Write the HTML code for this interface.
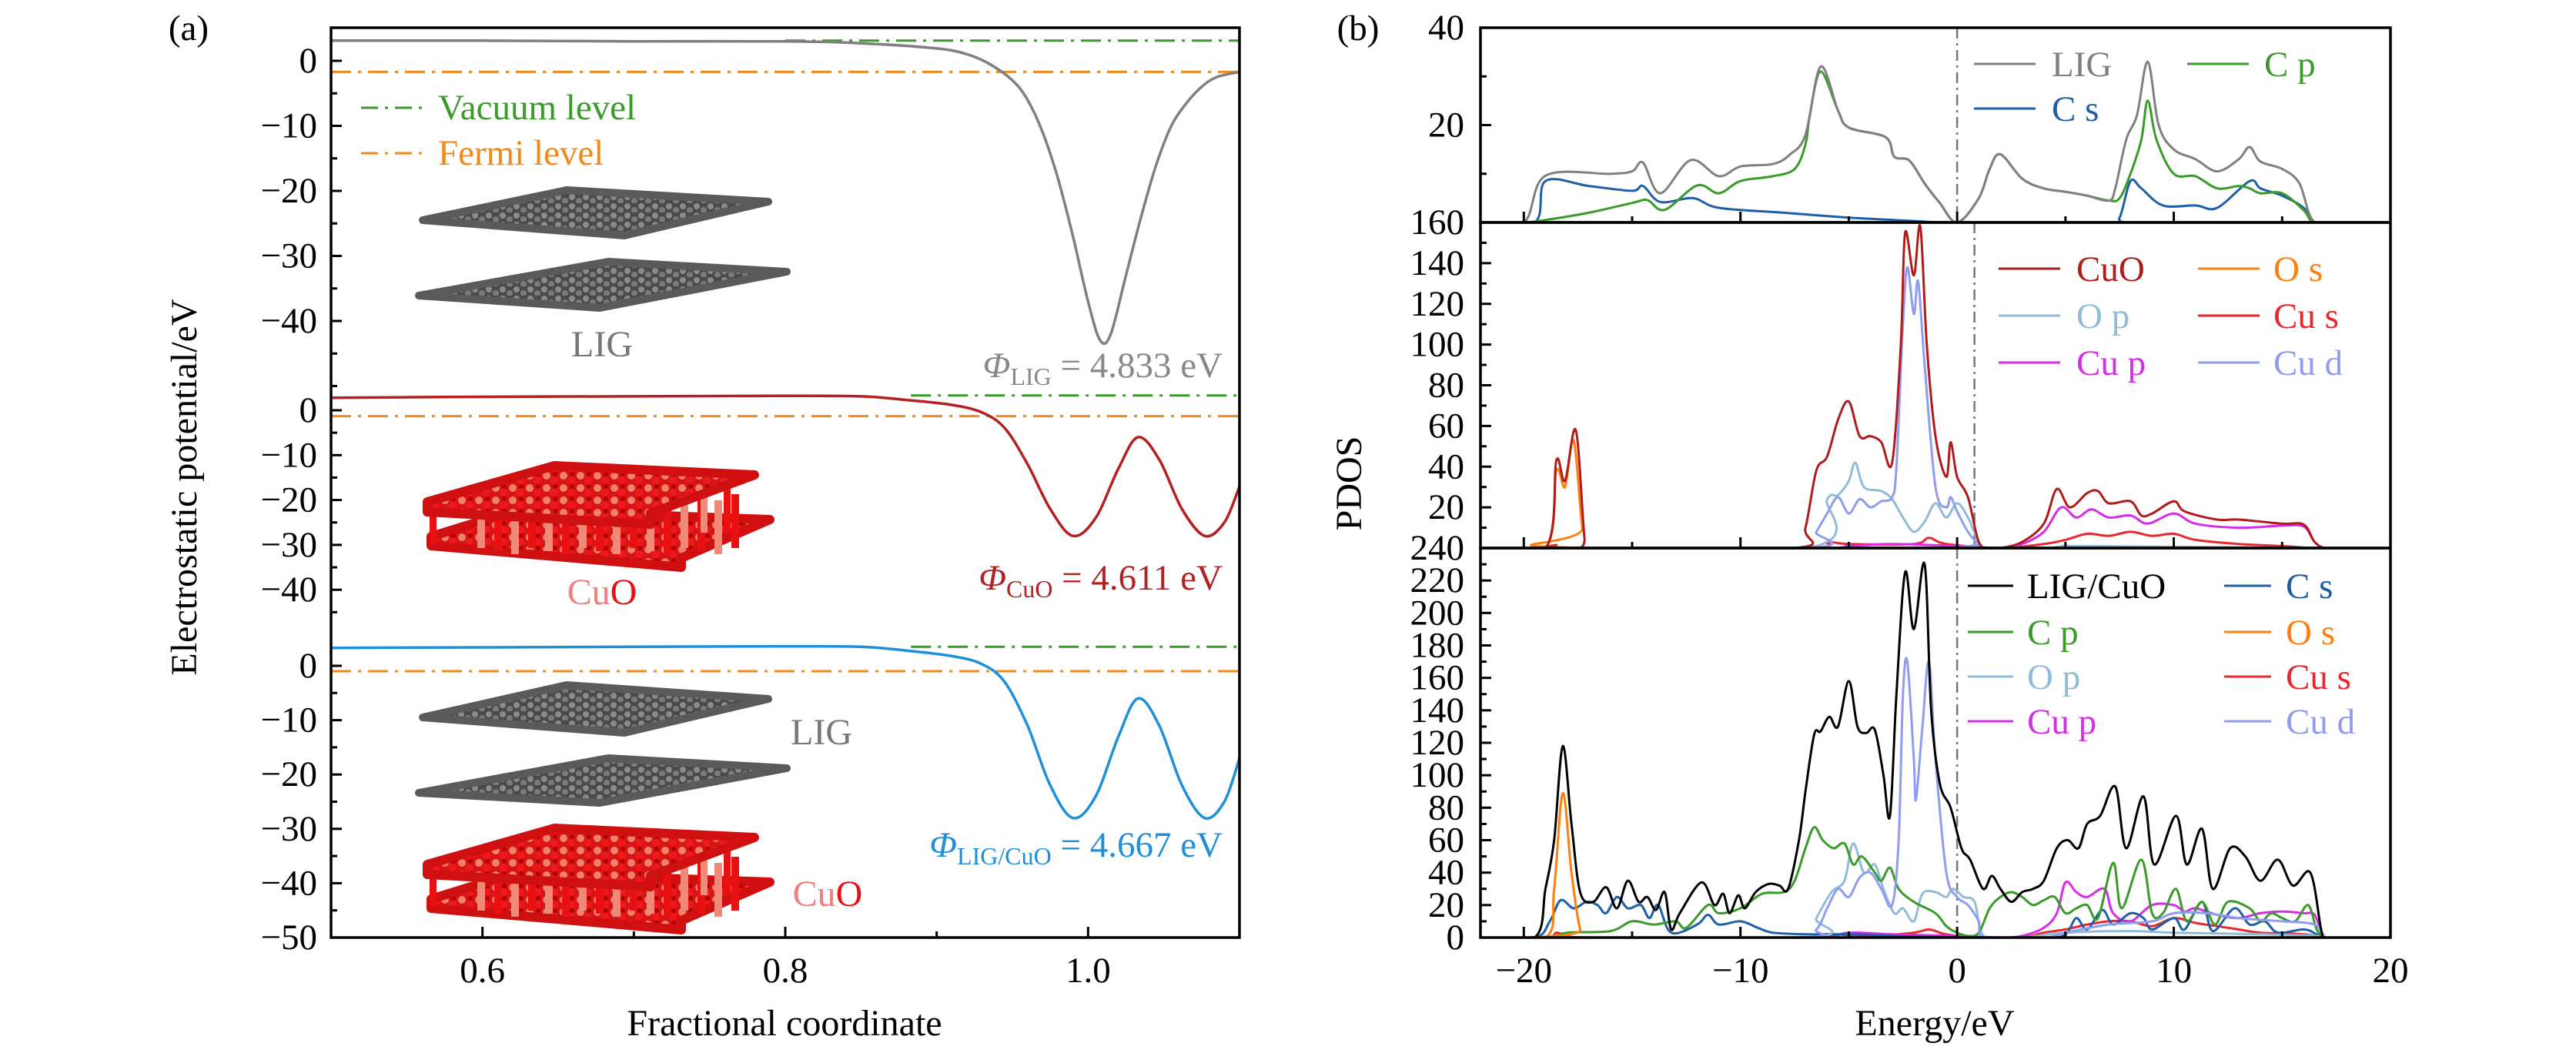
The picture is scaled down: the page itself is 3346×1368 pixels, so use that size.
<!DOCTYPE html>
<html><head><meta charset="utf-8">
<style>
html,body{margin:0;padding:0;background:#fff;}
svg{display:block;font-family:"Liberation Serif",serif;}
</style></head>
<body>
<svg id="fig" xmlns="http://www.w3.org/2000/svg" width="3346" height="1368" viewBox="0 0 3346 1368">
<defs>
<pattern id="gpat" width="18" height="12" patternUnits="userSpaceOnUse">
<rect width="18" height="12" fill="#4a4a4a"/>
<circle cx="5" cy="4" r="4" fill="#8a8a8a"/><circle cx="14" cy="9" r="4" fill="#7a7a7a"/>
</pattern>
<pattern id="cpat" width="22" height="16" patternUnits="userSpaceOnUse">
<rect width="22" height="16" fill="#d81414"/>
<circle cx="6" cy="5" r="5" fill="#f0826c"/><circle cx="16" cy="11" r="5" fill="#ee1a1a"/><circle cx="17" cy="3" r="3" fill="#b00000"/>
</pattern>
</defs>
</svg>
<script>
// ---------- Panel (a) data ----------
const ligX = [0.5,0.6,0.7,0.8,0.85,0.9,0.92,0.935,0.95,0.96,0.97,0.98,0.99,1.0,1.008,1.015,1.025,1.035,1.045,1.055,1.065,1.075,1.085,1.1];
const ligV = [3.1,3.1,3.0,3.0,2.7,1.9,1.0,-0.5,-3,-6,-11,-18,-27,-37,-43,-42,-33,-24,-16,-10,-6.5,-4,-2.5,-1.7];
const cuoX = [0.5,0.6,0.7,0.8,0.85,0.88,0.91,0.93,0.945,0.96,0.975,0.99,1.005,1.02,1.033,1.047,1.062,1.077,1.09,1.1];
const cuoV = [2.8,3.0,3.1,3.2,3.1,2.3,1.2,-0.5,-4,-12,-22,-28,-24,-13,-6,-11,-22,-28,-25,-17];
const hetX = [0.5,0.6,0.7,0.8,0.85,0.88,0.91,0.93,0.945,0.96,0.975,0.99,1.005,1.02,1.033,1.047,1.062,1.077,1.09,1.1];
const hetV = [3.3,3.4,3.5,3.6,3.5,2.8,1.8,0.3,-3,-11,-22,-28,-24,-13,-6,-11,-22,-28,-25,-17];
const vacLevels = [3.1, 3.3, 3.5];
const fermiLevels = [-1.7, -1.3, -1.0];
const aXTicks = [0.6,0.8,1.0];
const aXTickLabels = ["0.6","0.8","1.0"];

// ---------- Panel (b) data ----------
const topLIG_E = [-22,-20,-19,-16,-15,-14.5,-13.7,-12.3,-11,-10,-8.5,-7.7,-7,-6.3,-5.5,-5,-3.3,-2.9,-2.2,-1.5,-0.8,0,1,1.5,2,3,4,5,6,7,7.3,7.8,8.3,8.8,9.3,10,11,12,13,13.5,14,15,15.8,16.5,18];
const topLIG_V = [0,0,9.6,10,10.5,12.3,6,12.8,9.5,11.5,12,14,18,32,23,19.5,17.5,13.5,12.7,8,4,0,5,11,14,9,7,6.3,5.5,4.5,7,17,22,33,20,15,13,10.5,13,15.5,12.5,11,8,0,0];
const topCp_E = [-22,-20,-19,-17,-15,-14.3,-13.5,-12,-11,-10,-8.5,-7.5,-7,-6.8,-6.3,-5.5,-5,-3.3,-2.9,-2.2,-1.5,-0.8,0,1,1.5,2,3,4,5,6,7,7.5,8,8.5,8.8,9.2,10,11,12,13,13.5,14,15,16,16.5,18];
const topCp_V = [0,0,0.5,2,4,4.6,2.6,7.6,6,8.5,9.5,11,16,22,31,23,19.5,17.5,13.5,12.7,8,4,0,5,11,14,9,7,6.3,5.5,4.5,5,10,17,25,17,10,9.5,7,7.5,7,6,6,2.5,0,0];
const topCs_E = [-22,-19.5,-19,-17,-15,-14.5,-13.7,-12.2,-11,-8,-5,-2,0,7,7.5,8,8.5,9.5,11,12,13.5,14,15,16,16.5,18];
const topCs_V = [0,0,8.5,7.5,6.5,7.5,4.2,5,3,2,1,0.3,0,0,1,8.5,7,3.5,3.5,3,8.5,7,5.5,3,0,0];

const midCuO_E = [-22,-19,-18.5,-18.1,-17.6,-17.2,-17,-7.5,-7,-6.5,-6,-5.5,-5,-4.5,-4,-3.5,-3,-2.6,-2.4,-2,-1.7,-1.4,-1,-0.5,-0.3,0,0.5,1,1.5,2,3,4,4.6,5.2,6,6.5,7,8,8.5,9,10,10.5,12,13,15,16,16.5,17,18];
const midCuO_V = [0,0,43,33,58,5,0,0,10,38,45,63,72,55,55,52,42,100,155,134,158,100,55,35,52,35,25,3,0,0,3,12,29,20,27,28,22,23,16,17,23,18,14,14,12,11.5,3,0,0];
const midOs_E = [-22,-19,-18.5,-18.1,-17.7,-17.3,-17,18];
const midOs_V = [0,0,38,30,53,10,0,0];
const midOp_E = [-22,-7,-6,-5.5,-5,-4.7,-4.3,-3.5,-3,-2.5,-2,-1.5,-1,-0.5,0,0.5,1,1.5,4,5,6,17,18];
const midOp_V = [0,0,24,26,33,42,30,28,24,15,8,13,22,15,22,15,3,0,0,1,1,0,0];
const midCus_E = [-22,-19,-18.5,-18,-7,-6,-5,-2,-1.3,-0.5,2,4,5,6,7,8,9,10,11,13,15,16.5,18];
const midCus_V = [0,0,1.5,0,0,3,2,2,5,2,0,2,4,7,6,8,6,7,4,2,1,0,0];
const midCup_E = [-22,-7,-5,-3,0,2,3,4,4.8,5.5,6.2,7,8,8.8,10,11,13,15,16,16.5,17,18];
const midCup_V = [0,0,1,2,1,0,2,8,20,15,19,15,16,12,17,12,10,11,10.5,3,0,0];
const midCud_E = [-22,-7,-6.5,-6,-5.5,-5,-4.5,-4,-3.5,-3,-2.8,-2.5,-2.3,-2,-1.8,-1.5,-1,-0.5,-0.3,0,0.5,1,1.5,18];
const midCud_V = [0,0,8,17,25,17,24,20,23,25,40,110,138,115,131,90,30,20,25,18,8,2,0,0];

const botTot_E = [-22,-19.5,-19,-18.6,-18.2,-17.8,-17.4,-16.8,-16.2,-15.7,-15.2,-14.7,-14.3,-13.9,-13.5,-13.2,-12.8,-11.8,-11.2,-10.8,-10.5,-10.1,-9.8,-9.3,-8.7,-8.2,-7.8,-7.3,-7,-6.6,-6.3,-5.9,-5.5,-5,-4.6,-4.2,-3.8,-3.4,-3.1,-2.8,-2.4,-2,-1.5,-1.2,-0.8,-0.3,0.2,0.6,1.2,1.6,2,2.5,3,3.5,4,4.6,5.1,5.6,6,6.6,7.3,7.8,8.6,9.1,10.1,10.6,11.3,11.8,12.6,13.3,14,14.8,15.5,16.3,16.8,17,18];
const botTot_V = [0,0,30,60,118,70,28,22,31,18,35,22,25,17,28,5,15,34,20,27,15,26,18,28,33,32,30,60,90,125,127,136,130,158,130,126,128,100,75,150,225,190,230,140,95,80,55,48,30,38,30,22,28,30,35,55,60,55,70,75,93,55,87,45,75,45,67,30,55,50,35,48,32,40,5,0,0];
const botCp_E = [-22,-19,-18,-16,-15,-14,-13,-12.5,-11.5,-11,-10,-9,-8,-7.5,-7,-6.6,-6.2,-5.7,-5.2,-4.8,-4.4,-3.8,-3.5,-3.1,-2.7,-2,-1,-0.5,0,0.5,1,1.5,2,2.5,3,3.5,4,4.5,5,5.5,6,6.5,7.2,7.6,8.5,9,9.5,10.1,10.6,11.3,11.9,12.5,13.5,14,14.5,15,15.6,16.2,16.6,17,18];
const botCp_V = [0,0,3,4,10,8,10,6,20,15,18,27,28,35,55,68,60,55,58,45,50,40,35,43,30,22,15,7,3,1,3,18,25,28,25,20,23,25,15,18,20,12,46,18,48,15,15,30,10,22,8,22,18,10,15,12,10,20,5,0,0];
const botCs_E = [-22,-19.5,-18.8,-18.3,-17.7,-17.1,-16.6,-16.2,-15.7,-15.2,-14.6,-14.2,-13.8,-13.2,-12,-11.5,-11,-10,-9.2,-8.5,-7,-5,-3,0,4,5,5.5,6,6.7,7.2,8,8.6,9,10,10.5,11.3,11.8,12.8,13.5,14.2,14.8,16,16.6,17,18];
const botCs_V = [0,0,10,23,18,22,20,15,25,18,20,12,20,3,8,14,8,10,6,3,2,2,1,0,0,2,12,5,17,8,15,12,5,12,5,22,4,18,8,10,3,5,2,0,0];
const botOs_E = [-22,-19,-18.6,-18.2,-17.8,-17.4,-17,18];
const botOs_V = [0,0,30,89,40,5,0,0];
const botOp_E = [-22,-7,-6.5,-5.8,-5.2,-4.8,-4.3,-3.8,-3.4,-2.9,-2.5,-2,-1.6,-1,-0.5,-0.2,0.3,0.8,1.3,3,5,8,10,14,16.6,17,18];
const botOp_V = [0,0,12,28,35,58,40,45,30,15,18,10,27,28,25,30,25,22,0,0,3,4,3,2,1,0,0];
const botCus_E = [-22,-19,-18.5,-18,-17,-7,-6,-4,-2,-1.3,-0.5,1,3,4,5,6,7,8,9,10,11,12,13,14,16,17,18];
const botCus_V = [0,0,3,1,0,0,2,1,3,5,2,0,0,3,5,8,10,10,7,12,9,7,5,3,2,0,0];
const botCup_E = [-22,-19,-18,-17,-7,-5,-3,0,2,3,4,4.6,5,5.5,6,6.8,7.2,8,9,10,10.5,11,12,13,14,15,16,16.5,17,18];
const botCup_V = [0,0,2,0,0,3,2,1,0,1,6,15,34,28,25,30,15,10,20,20,16,18,14,12,15,16,15,14,0,0];
const botCud_E = [-22,-7.5,-6.5,-6,-5.5,-5,-4.5,-4,-3.5,-3,-2.7,-2.5,-2.3,-2,-1.9,-1.6,-1.3,-1,-0.5,0,0.5,1,1.3,4,5,7,9,10,11.5,13,15,16.5,17,18];
const botCud_V = [0,0,5,18,30,25,37,40,30,20,60,150,170,110,85,130,170,110,40,25,20,10,0,0,3,8,10,15,15,12,10,8,0,0];

const bXTicks = [-20,-10,0,10,20];
const bXTickLabels = ["−20","−10","0","10","20"];
const topYTicks = [20,40];
const midYTicks = [20,40,60,80,100,120,140,160];
const botYTicks = [0,20,40,60,80,100,120,140,160,180,200,220,240];

// ---------- helpers ----------
const NS = "http://www.w3.org/2000/svg";
const svg = document.getElementById('fig');
function mk(tag, attrs, parent){
  const e = document.createElementNS(NS, tag);
  for (const k in attrs) e.setAttribute(k, attrs[k]);
  (parent||svg).appendChild(e);
  return e;
}
function smoothPath(pts){
  let d = "M"+pts[0][0].toFixed(1)+","+pts[0][1].toFixed(1);
  for (let i=0;i<pts.length-1;i++){
    const p0=pts[Math.max(0,i-1)], p1=pts[i], p2=pts[i+1], p3=pts[Math.min(pts.length-1,i+2)];
    const t=1/6;
    const c1=[p1[0]+(p2[0]-p0[0])*t, p1[1]+(p2[1]-p0[1])*t];
    const c2=[p2[0]-(p3[0]-p1[0])*t, p2[1]-(p3[1]-p1[1])*t];
    d+=" C"+c1[0].toFixed(1)+","+c1[1].toFixed(1)+" "+c2[0].toFixed(1)+","+c2[1].toFixed(1)+" "+p2[0].toFixed(1)+","+p2[1].toFixed(1);
  }
  return d;
}
function txt(s, x, y, size, fill, anchor, parent){
  const t = mk('text', {x:x, y:y, 'font-size':size, fill:fill||'#000', 'text-anchor':anchor||'start'}, parent);
  t.textContent = s;
  return t;
}

// ---------- Panel (a) ----------
const aL=430, aR=1610, aT=36, aB=1218;
const ax = v => aL + (v-0.5)/(0.6)*(aR-aL);
const secs = [ {y0:79, s:8.45}, {y0:533, s:5.83}, {y0:865, s:7.06} ];
const ay = (k,v) => secs[k].y0 - v*secs[k].s;

const ga = mk('g', {});


const clipA = mk('clipPath',{id:'clipA'}); mk('rect',{x:aL,y:aT,width:aR-aL,height:aB-aT},clipA);

function graphene(pts, name){
  const p = mk('polygon',{points:pts.map(q=>q.join(',')).join(' '), fill:'url(#gpat)', stroke:'#5a5a5a', 'stroke-width':10, 'stroke-linejoin':'round'}, ga);
  
  
}
function cuo(x0,y0,name){
  const g = mk('g',{transform:'translate('+x0+','+y0+')'}, ga);
  
  
  // bottom slab (thick)
  mk('polygon',{points:'10,100 120,66 450,78 335,128 335,140 10,112', fill:'url(#cpat)', stroke:'#d01010','stroke-width':12,'stroke-linejoin':'round'},g);
  // pillars
  for(let i=0;i<16;i++){ const xx=70+i*22; mk('rect',{x:xx,y:45+(i%3)*4,width:10,height:70,fill:i%2?'#e81010':'#f08a78'},g); }
  mk('rect',{x:8,y:55,width:9,height:55,fill:'#e81010'},g);
  mk('rect',{x:360,y:35,width:9,height:60,fill:'#f08a78'},g);
  mk('rect',{x:390,y:35,width:9,height:60,fill:'#e81010'},g);
  // top slab (thick)
  mk('polygon',{points:'5,55 170,8 430,20 295,70 295,84 5,68', fill:'url(#cpat)', stroke:'#d01010','stroke-width':12,'stroke-linejoin':'round'},g);
}
graphene([[549,286],[736,247],[998,262],[811,306]],'graphene-sheet-1');
graphene([[544,384],[790,340],[1022,353],[779,400]],'graphene-sheet-2');
cuo(550,597,'cuo-structure');
graphene([[549,932],[736,890],[998,908],[811,952]],'graphene-sheet-3');
graphene([[544,1030],[790,985],[1022,998],[779,1043]],'graphene-sheet-4');
cuo(550,1068,'cuo-structure-interface');

const dash = '26,9,4,9';
const vacStart = [0.8, 0.883, 0.883];
for (let k=0;k<3;k++){
  const v = mk('line',{x1:ax(vacStart[k]),x2:aR,y1:ay(k,vacLevels[k]),y2:ay(k,vacLevels[k]),stroke:'#3a9a2a','stroke-width':3,'stroke-dasharray':dash},ga);
  
  
  const f = mk('line',{x1:aL,x2:aR,y1:ay(k,fermiLevels[k]),y2:ay(k,fermiLevels[k]),stroke:'#f08a1c','stroke-width':3,'stroke-dasharray':dash},ga);
  
  
}
const curvesA = [[ligX,ligV,'#808080',0,'lig-potential-curve'],[cuoX,cuoV,'#b22222',1,'cuo-potential-curve'],[hetX,hetV,'#1e8fd8',2,'lig-cuo-potential-curve']];
curvesA.forEach(c=>{
  const pts = c[0].map((x,i)=>[ax(x), ay(c[3], c[1][i])]);
  const p = mk('path',{d:smoothPath(pts),fill:'none',stroke:c[2],'stroke-width':3.5,'clip-path':'url(#clipA)'},ga);
  
  
});
const boxA = mk('rect',{x:aL,y:aT,width:aR-aL,height:aB-aT,fill:'none',stroke:'#000','stroke-width':3.5},ga);


const secTicks = [{maj:[0,-10,-20,-30,-40], min:[5,-5,-15,-25,-35,-45,-50]},
                  {maj:[0,-10,-20,-30,-40], min:[-5,-15,-25,-35,-45]},
                  {maj:[0,-10,-20,-30,-40,-50], min:[-5,-15,-25,-35,-45]}];
secTicks.forEach((st,k)=>{
  st.maj.forEach(v=>{
    const y=ay(k,v);
    mk('line',{x1:aL,x2:aL+14,y1:y,y2:y,stroke:'#000','stroke-width':3},ga);
    const t = txt(v===0?'0':'−'+Math.abs(v), aL-18, y+15, 47, '#000','end',ga);
    
    
  });
  st.min.forEach(v=>{ const y=ay(k,v); if(y>aT+5&&y<aB-2) mk('line',{x1:aL,x2:aL+8,y1:y,y2:y,stroke:'#000','stroke-width':3},ga); });
});
aXTicks.forEach((v,i)=>{
  const x=ax(v);
  mk('line',{x1:x,x2:x,y1:aB,y2:aB-14,stroke:'#000','stroke-width':3},ga);
  const t = txt(aXTickLabels[i], x, aB+58, 47,'#000','middle',ga);
  
  
});
[0.7,0.9].forEach(v=>{ const x=ax(v); mk('line',{x1:x,x2:x,y1:aB,y2:aB-8,stroke:'#000','stroke-width':3},ga); });
const legA = mk('g',{},ga);


mk('line',{x1:469,x2:549,y1:140,y2:140,stroke:'#3a9a2a','stroke-width':3,'stroke-dasharray':'22,9,4,9'},legA);
txt('Vacuum level',569,155,47,'#3a9a2a','start',legA);
mk('line',{x1:469,x2:549,y1:199,y2:199,stroke:'#f08a1c','stroke-width':3,'stroke-dasharray':'22,9,4,9'},legA);
txt('Fermi level',569,214,47,'#f08a1c','start',legA);
let t;
t = txt('LIG',782,463,48,'#777','middle',ga);  
t = mk('text',{x:782,y:785,'font-size':48,'text-anchor':'middle'},ga); t.innerHTML='<tspan fill="#f08080">Cu</tspan><tspan fill="#e81010">O</tspan>';
 
t = txt('LIG',1067,967,48,'#777','middle',ga);  
t = mk('text',{x:1075,y:1177,'font-size':48,'text-anchor':'middle'},ga); t.innerHTML='<tspan fill="#f08080">Cu</tspan><tspan fill="#e81010">O</tspan>';
 
t = mk('text',{x:1588,y:490,'font-size':47,'text-anchor':'end',fill:'#888'},ga);
t.innerHTML='<tspan font-style="italic">Φ</tspan><tspan font-size="32" dy="10">LIG</tspan><tspan dy="-10"> = 4.833 eV</tspan>';
 
t = mk('text',{x:1588,y:766,'font-size':47,'text-anchor':'end',fill:'#b22222'},ga);
t.innerHTML='<tspan font-style="italic">Φ</tspan><tspan font-size="32" dy="10">CuO</tspan><tspan dy="-10"> = 4.611 eV</tspan>';
 
t = mk('text',{x:1588,y:1113,'font-size':47,'text-anchor':'end',fill:'#1e8fd8'},ga);
t.innerHTML='<tspan font-style="italic">Φ</tspan><tspan font-size="32" dy="10">LIG/CuO</tspan><tspan dy="-10"> = 4.667 eV</tspan>';
 
t = txt('(a)',245,52,47,'#000','middle',ga);  
t = txt('Fractional coordinate',1019,1345,48,'#000','middle',ga);  
t = mk('text',{x:0,y:0,'font-size':48,'text-anchor':'middle',transform:'translate(255,633) rotate(-90)'},ga);
t.textContent='Electrostatic potential/eV';
 

// ---------- Panel (b) ----------
const bL=1923, bR=3105;
const bx = e => bL + (e+22)/42*(bR-bL);
const panels = [ {top:36, bot:289, max:40}, {top:289, bot:712, max:160}, {top:712, bot:1218, max:240} ];
const byf = k => v => panels[k].bot - v/panels[k].max*(panels[k].bot-panels[k].top);
const gb = mk('g',{});


panels.forEach((p,k)=>{ const c=mk('clipPath',{id:'clipB'+k}); mk('rect',{x:bL,y:p.top,width:bR-bL,height:p.bot-p.top},c); });

const C = {LIG:'#808080', Cp:'#3a9a2a', Cs:'#1f5fa8', CuO:'#b01c1c', Os:'#ff7f0e', Op:'#90bcd8', Cus:'#e8282f', Cup:'#d62de6', Cud:'#8f9cf0', Tot:'#000'};
const series = [
  [0,topCs_E,topCs_V,C.Cs,'pdos-lig-c-s'],[0,topCp_E,topCp_V,C.Cp,'pdos-lig-c-p'],[0,topLIG_E,topLIG_V,C.LIG,'pdos-lig-total'],
  [1,midOs_E,midOs_V,C.Os,'pdos-cuo-o-s'],[1,midCus_E,midCus_V,C.Cus,'pdos-cuo-cu-s'],[1,midCup_E,midCup_V,C.Cup,'pdos-cuo-cu-p'],
  [1,midOp_E,midOp_V,C.Op,'pdos-cuo-o-p'],[1,midCud_E,midCud_V,C.Cud,'pdos-cuo-cu-d'],[1,midCuO_E,midCuO_V,C.CuO,'pdos-cuo-total'],
  [2,botCus_E,botCus_V,C.Cus,'pdos-het-cu-s'],[2,botCup_E,botCup_V,C.Cup,'pdos-het-cu-p'],[2,botCs_E,botCs_V,C.Cs,'pdos-het-c-s'],
  [2,botOp_E,botOp_V,C.Op,'pdos-het-o-p'],[2,botCp_E,botCp_V,C.Cp,'pdos-het-c-p'],[2,botCud_E,botCud_V,C.Cud,'pdos-het-cu-d'],
  [2,botOs_E,botOs_V,C.Os,'pdos-het-o-s'],[2,botTot_E,botTot_V,C.Tot,'pdos-het-total']
];
[[0,0],[1,0.8],[2,0]].forEach(([k,e])=>{
  const l = mk('line',{x1:bx(e),x2:bx(e),y1:panels[k].top,y2:panels[k].bot,stroke:'#777','stroke-width':2.5,'stroke-dasharray':'14,6,3,6'},gb);
  
  
});
series.forEach(s=>{
  const by = byf(s[0]);
  const pts = s[1].map((e,i)=>[bx(e), by(s[2][i])]);
  const p = mk('path',{d:smoothPath(pts),fill:'none',stroke:s[3],'stroke-width':3,'clip-path':'url(#clipB'+s[0]+')'},gb);
  
  
});
panels.forEach((p,k)=>{
  const f = mk('rect',{x:bL,y:p.top,width:bR-bL,height:p.bot-p.top,fill:'none',stroke:'#000','stroke-width':3.5},gb);
  
  
  const by = byf(k);
  const ticks = k===0?topYTicks:(k===1?midYTicks:botYTicks);
  for(let v=0; v<=p.max; v+=10){
    const y=by(v); const major = v%20===0;
    mk('line',{x1:bL,x2:bL+(major?14:8),y1:y,y2:y,stroke:'#000','stroke-width':3},gb);
  }
  ticks.forEach(v=>{
    const tt = txt(String(v), 1902, by(v)+15, 47,'#000','end',gb);
    
    
  });
  for(let e=-20;e<=20;e+=5){
    const x=bx(e), major = e%10===0;
    mk('line',{x1:x,x2:x,y1:p.bot,y2:p.bot-(major?14:8),stroke:'#000','stroke-width':3},gb);
  }
});
bXTicks.forEach((v,i)=>{
  const tt = txt(bXTickLabels[i], bx(v), 1276, 47,'#000','middle',gb);
  
  
});
function legend(entries, name){
  const g = mk('g',{},gb);
  
  
  entries.forEach(([x1,x2,tx,y,col,label])=>{
    mk('line',{x1:x1,x2:x2,y1:y,y2:y,stroke:col,'stroke-width':3},g);
    txt(label, tx, y+16, 47, col,'start',g);
  });
}
legend([[2564,2644,2665,83,C.LIG,'LIG'],[2841,2921,2941,83,C.Cp,'C p'],[2564,2644,2665,141,C.Cs,'C s']],'legend-lig');
legend([[2596,2676,2697,349,C.CuO,'CuO'],[2855,2935,2953,349,C.Os,'O s'],
        [2596,2676,2697,410,C.Op,'O p'],[2855,2935,2953,410,C.Cus,'Cu s'],
        [2596,2676,2697,471,C.Cup,'Cu p'],[2855,2935,2953,471,C.Cud,'Cu d']],'legend-cuo');
legend([[2556,2615,2633,761,C.Tot,'LIG/CuO'],[2889,2950,2969,761,C.Cs,'C s'],
        [2556,2615,2633,821,C.Cp,'C p'],[2889,2950,2969,821,C.Os,'O s'],
        [2556,2615,2633,879,C.Op,'O p'],[2889,2950,2969,879,C.Cus,'Cu s'],
        [2556,2615,2633,937,C.Cup,'Cu p'],[2889,2950,2969,937,C.Cud,'Cu d']],'legend-lig-cuo');
t = txt('(b)',1764,52,47,'#000','middle',gb);  
t = txt('Energy/eV',2513,1345,48,'#000','middle',gb);  
t = mk('text',{x:0,y:0,'font-size':48,'text-anchor':'middle',transform:'translate(1768,628) rotate(-90)'},gb);
t.textContent='PDOS';
 
</script>
</body></html>
